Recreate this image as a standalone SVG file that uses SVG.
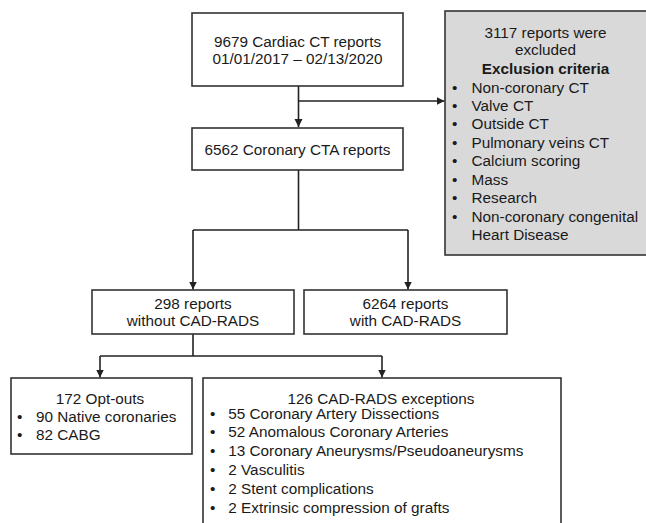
<svg xmlns="http://www.w3.org/2000/svg" width="646" height="523" viewBox="0 0 646 523">
<defs>
<style>
.box{fill:#fff;stroke:#333;stroke-width:1.6}
.gray{fill:#d9d9d9;stroke:#333;stroke-width:1.6}
.t{font-family:"Liberation Sans",Arial,sans-serif;font-size:15.3px;fill:#1a1a1a}
.c{text-anchor:middle}
.b{font-weight:bold}
.ln{fill:none;stroke:#222;stroke-width:1.6}
</style>
<marker id="ah" markerUnits="userSpaceOnUse" markerWidth="9" markerHeight="9" refX="8" refY="4" orient="auto">
<path d="M0,0 L8,4 L0,8 z" fill="#222"/>
</marker>
</defs>
<g id="connectors">
<path class="ln" d="M298.5 86 V127" marker-end="url(#ah)"/>
<path class="ln" d="M298.5 101 H444.5" marker-end="url(#ah)"/>
<path class="ln" d="M298.5 170 V230 M193 230 H408"/>
<path class="ln" d="M193 230 V289.5" marker-end="url(#ah)"/>
<path class="ln" d="M408 230 V289.5" marker-end="url(#ah)"/>
<path class="ln" d="M193 334 V356 M100 356 H382"/>
<path class="ln" d="M100 356 V377.5" marker-end="url(#ah)"/>
<path class="ln" d="M382 356 V377.5" marker-end="url(#ah)"/>
</g>
<g id="n1">
<rect class="box" x="192" y="13" width="211" height="73"/>
<text class="t c" x="297.5" y="46.5">9679 Cardiac CT reports</text>
<text class="t c" x="297.5" y="63.5">01/01/2017 – 02/13/2020</text>
</g>
<g id="n2">
<rect class="box" x="192" y="128" width="211" height="42"/>
<text class="t c" x="297.5" y="155.3">6562 Coronary CTA reports</text>
</g>
<g id="excluded">
<rect class="gray" x="445" y="11" width="210" height="244"/>
<text class="t c" x="545.5" y="38">3117 reports were</text>
<text class="t c" x="545.5" y="55.3">excluded</text>
<text class="t c b" x="545.5" y="73.6">Exclusion criteria</text>
<g class="t">
<text x="452" y="92.6">•</text><text x="471.5" y="92.6">Non-coronary CT</text>
<text x="452" y="111.3">•</text><text x="471.5" y="111.3">Valve CT</text>
<text x="452" y="129.3">•</text><text x="471.5" y="129.3">Outside CT</text>
<text x="452" y="147.6">•</text><text x="471.5" y="147.6">Pulmonary veins CT</text>
<text x="452" y="166">•</text><text x="471.5" y="166">Calcium scoring</text>
<text x="452" y="184.6">•</text><text x="471.5" y="184.6">Mass</text>
<text x="452" y="203">•</text><text x="471.5" y="203">Research</text>
<text x="452" y="222">•</text><text x="471.5" y="222">Non-coronary congenital</text>
<text x="471.5" y="240.3">Heart Disease</text>
</g>
</g>
<g id="n3">
<rect class="box" x="92" y="290" width="202" height="44"/>
<text class="t c" x="193" y="308.6">298 reports</text>
<text class="t c" x="193" y="326.3">without CAD-RADS</text>
</g>
<g id="n4">
<rect class="box" x="304" y="290" width="203" height="44"/>
<text class="t c" x="405.5" y="308.6">6264 reports</text>
<text class="t c" x="405.5" y="326.3">with CAD-RADS</text>
</g>
<g id="n5">
<rect class="box" x="11" y="378" width="181" height="76"/>
<text class="t c" x="100" y="403.6">172 Opt-outs</text>
<g class="t">
<text x="17" y="421.6">•</text><text x="36" y="421.6">90 Native coronaries</text>
<text x="17" y="439.6">•</text><text x="36" y="439.6">82 CABG</text>
</g>
</g>
<g id="n6">
<rect class="box" x="203" y="378" width="358" height="160"/>
<text class="t c" x="381" y="403.6">126 CAD-RADS exceptions</text>
<g class="t">
<text x="210" y="419.3">•</text><text x="228.3" y="419.3">55 Coronary Artery Dissections</text>
<text x="210" y="437.3">•</text><text x="228.3" y="437.3">52 Anomalous Coronary Arteries</text>
<text x="210" y="456">•</text><text x="228.3" y="456">13 Coronary Aneurysms/Pseudoaneurysms</text>
<text x="210" y="474.6">•</text><text x="228.3" y="474.6">2 Vasculitis</text>
<text x="210" y="493.6">•</text><text x="228.3" y="493.6">2 Stent complications</text>
<text x="210" y="512.6">•</text><text x="228.3" y="512.6">2 Extrinsic compression of grafts</text>
</g>
</g>
</svg>
